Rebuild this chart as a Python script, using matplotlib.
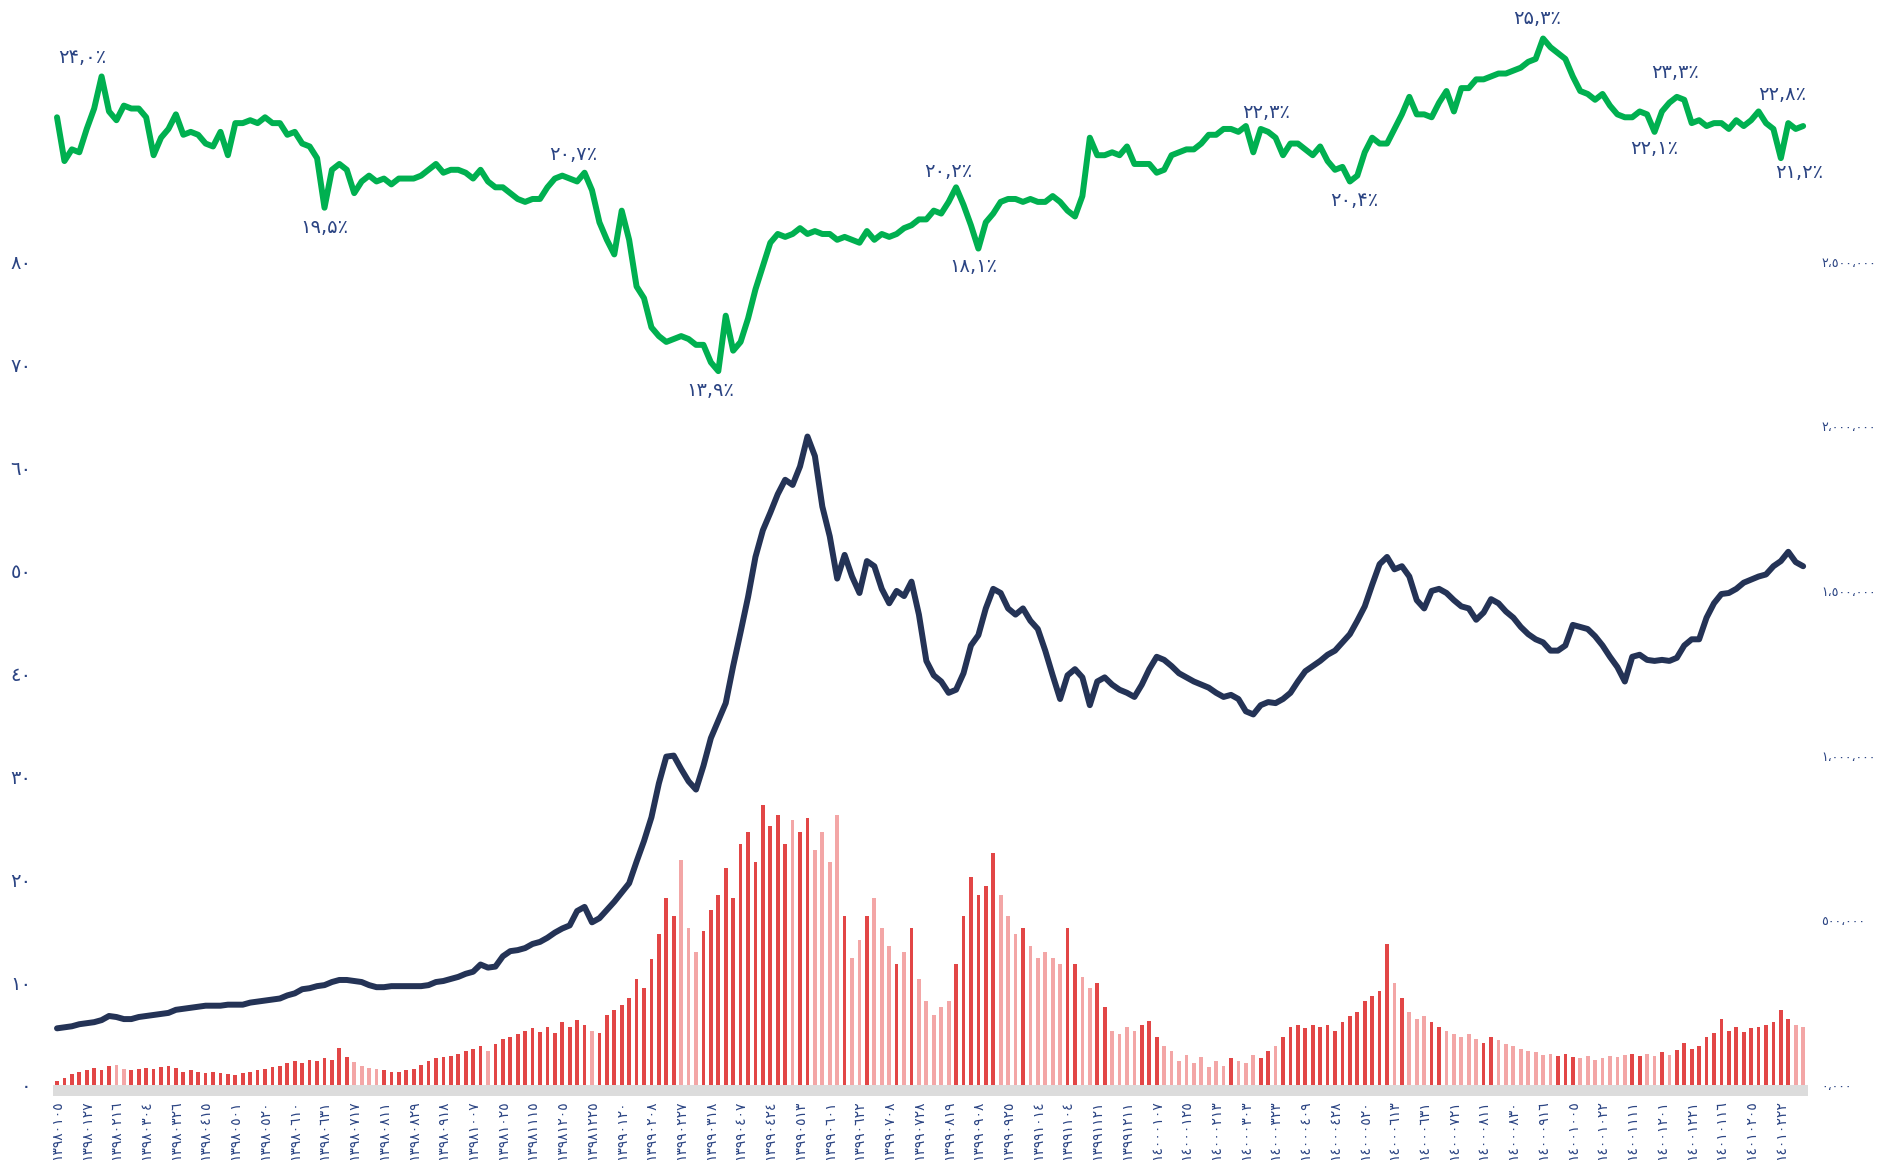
import matplotlib
matplotlib.use("Agg")
import matplotlib.pyplot as plt
import numpy as np
from matplotlib.patches import Rectangle

# --- data -----------------------------------------------------------------
dates = [
    "13980105", "13980127", "13980216", "13980304", "13980326", "13980415",
    "13980501", "13980520", "13980610", "13980631", "13980717", "13980811",
    "13980829", "13980918", "13981007", "13981025", "13981115", "13981205",
    "13981225", "13990120", "13990208", "13990227", "13990318", "13990407",
    "13990424", "13990513", "13990601", "13990622", "13990708", "13990728",
    "13990819", "13990908", "13990925", "13991014", "13991104", "13991121",
    "13991211", "14000107", "14000125", "14000213", "14000303", "14000323",
    "14000409", "14000428", "14000520", "14000613", "14000631", "14000721",
    "14000811", "14000830", "14000916", "14001005", "14001022", "14001111",
    "14001201", "14001221", "14010116", "14010205", "14010222",
]

price = [
    5.5, 5.6, 5.7, 5.9, 6.0, 6.1, 6.3, 6.7, 6.6, 6.4,
    6.4, 6.6, 6.7, 6.8, 6.9, 7.0, 7.3, 7.4, 7.5, 7.6,
    7.7, 7.7, 7.7, 7.8, 7.8, 7.8, 8.0, 8.1, 8.2, 8.3,
    8.4, 8.7, 8.9, 9.3, 9.4, 9.6, 9.7, 10.0, 10.2, 10.2,
    10.1, 10.0, 9.7, 9.5, 9.5, 9.6, 9.6, 9.6, 9.6, 9.6,
    9.7, 10.0, 10.1, 10.3, 10.5, 10.8, 11.0, 11.7, 11.4, 11.5,
    12.5, 13.0, 13.1, 13.3, 13.7, 13.9, 14.3, 14.8, 15.2, 15.5,
    16.9, 17.3, 15.8, 16.2, 17.0, 17.8, 18.7, 19.6, 21.7, 23.7,
    26.0, 29.3, 31.9, 32.0, 30.7, 29.5, 28.7, 31.0, 33.7, 35.4,
    37.1, 40.7, 44.0, 47.4, 51.3, 53.9, 55.6, 57.4, 58.8, 58.3,
    60.1, 63.0, 61.1, 56.2, 53.3, 49.2, 51.5, 49.4, 47.8, 50.9,
    50.4, 48.2, 46.8, 48.0, 47.5, 48.9, 45.7, 41.2, 39.8, 39.2,
    38.1, 38.4, 40.0, 42.7, 43.7, 46.3, 48.2, 47.8, 46.3, 45.7,
    46.3, 45.1, 44.3, 42.2, 39.8, 37.5, 39.8, 40.4, 39.6, 36.9,
    39.2, 39.6, 38.9, 38.4, 38.1, 37.7, 38.9, 40.4, 41.6, 41.3,
    40.7, 40.0, 39.6, 39.2, 38.9, 38.6, 38.1, 37.7, 37.9, 37.5,
    36.3, 36.0, 36.9, 37.2, 37.1, 37.5, 38.1, 39.2, 40.2, 40.7,
    41.2, 41.8, 42.2, 43.0, 43.8, 45.1, 46.5, 48.6, 50.6, 51.3,
    50.1, 50.4, 49.4, 47.1, 46.3, 48.0, 48.2, 47.8, 47.1, 46.5,
    46.3, 45.2, 45.9, 47.2, 46.8, 46.0, 45.4, 44.5, 43.8, 43.3,
    43.0, 42.2, 42.2, 42.7, 44.7, 44.5, 44.3, 43.6, 42.7, 41.6,
    40.6, 39.2, 41.6, 41.8, 41.3, 41.2, 41.3, 41.2, 41.5, 42.7,
    43.3, 43.3, 45.4, 46.8, 47.7, 47.8, 48.2, 48.8, 49.1, 49.4,
    49.6, 50.4, 50.9, 51.8, 50.8, 50.4,
]

ratio = [
    22.6, 21.1, 21.5, 21.4, 22.2, 22.9, 24.0, 22.8, 22.5, 23.0,
    22.9, 22.9, 22.6, 21.3, 21.9, 22.2, 22.7, 22.0, 22.1, 22.0,
    21.7, 21.6, 22.1, 21.3, 22.4, 22.4, 22.5, 22.4, 22.6, 22.4,
    22.4, 22.0, 22.1, 21.7, 21.6, 21.2, 19.5, 20.8, 21.0, 20.8,
    20.0, 20.4, 20.6, 20.4, 20.5, 20.3, 20.5, 20.5, 20.5, 20.6,
    20.8, 21.0, 20.7, 20.8, 20.8, 20.7, 20.5, 20.8, 20.4, 20.2,
    20.2, 20.0, 19.8, 19.7, 19.8, 19.8, 20.2, 20.5, 20.6, 20.5,
    20.4, 20.7, 20.1, 19.0, 18.4, 17.9, 19.4, 18.4, 16.8, 16.4,
    15.4, 15.1, 14.9, 15.0, 15.1, 15.0, 14.8, 14.8, 14.2, 13.9,
    15.8, 14.6, 14.9, 15.7, 16.7, 17.5, 18.3, 18.6, 18.5, 18.6,
    18.8, 18.6, 18.7, 18.6, 18.6, 18.4, 18.5, 18.4, 18.3, 18.7,
    18.4, 18.6, 18.5, 18.6, 18.8, 18.9, 19.1, 19.1, 19.4, 19.3,
    19.7, 20.2, 19.6, 18.9, 18.1, 19.0, 19.3, 19.7, 19.8, 19.8,
    19.7, 19.8, 19.7, 19.7, 19.9, 19.7, 19.4, 19.2, 19.9, 21.9,
    21.3, 21.3, 21.4, 21.3, 21.6, 21.0, 21.0, 21.0, 20.7, 20.8,
    21.3, 21.4, 21.5, 21.5, 21.7, 22.0, 22.0, 22.2, 22.2, 22.1,
    22.3, 21.4, 22.2, 22.1, 21.9, 21.3, 21.7, 21.7, 21.5, 21.3,
    21.6, 21.1, 20.8, 20.9, 20.4, 20.6, 21.4, 21.9, 21.7, 21.7,
    22.2, 22.7, 23.3, 22.7, 22.7, 22.6, 23.1, 23.5, 22.8, 23.6,
    23.6, 23.9, 23.9, 24.0, 24.1, 24.1, 24.2, 24.3, 24.5, 24.6,
    25.3, 25.0, 24.8, 24.6, 24.0, 23.5, 23.4, 23.2, 23.4, 23.0,
    22.7, 22.6, 22.6, 22.8, 22.7, 22.1, 22.8, 23.1, 23.3, 23.2,
    22.4, 22.5, 22.3, 22.4, 22.4, 22.2, 22.5, 22.3, 22.5, 22.8,
    22.4, 22.2, 21.2, 22.4, 22.2, 22.3,
]

# traded volume, thousands
volume_k = [
    12, 22, 33, 40, 44, 51, 44, 59, 62, 48,
    44, 48, 51, 48, 55, 59, 51, 40, 44, 40,
    37, 40, 37, 33, 29, 37, 40, 44, 48, 55,
    59, 66, 73, 66, 77, 73, 81, 77, 113, 84,
    70, 59, 51, 48, 44, 40, 40, 44, 48, 62,
    73, 81, 84, 88, 95, 102, 110, 117, 102, 124,
    139, 146, 154, 165, 172, 161, 176, 157, 190, 176,
    198, 183, 165, 157, 212, 227, 242, 264, 322, 293,
    381, 458, 567, 512, 684, 476, 403, 468, 531, 578,
    659, 567, 732, 769, 677, 849, 787, 820, 732, 805,
    769, 812, 714, 769, 677, 820, 512, 384, 439, 512,
    567, 476, 421, 366, 403, 476, 322, 256, 212, 238,
    256, 366, 512, 630, 578, 604, 703, 578, 512, 458,
    476, 421, 384, 403, 384, 366, 476, 366, 329, 293,
    311, 238, 165, 154, 176, 165, 183, 194, 146, 117,
    102, 73, 92, 66, 84, 55, 73, 59, 81, 73,
    66, 92, 81, 102, 117, 146, 176, 183, 172, 183,
    176, 183, 165, 190, 209, 220, 256, 271, 285, 428,
    311, 264, 220, 201, 209, 190, 176, 165, 154, 146,
    154, 139, 128, 146, 135, 124, 117, 110, 102, 99,
    92, 95, 88, 95, 84, 81, 88, 77, 81, 88,
    84, 92, 95, 88, 95, 88, 99, 92, 106, 128,
    110, 117, 146, 157, 201, 165, 176, 161, 172, 176,
    183, 190, 227, 201, 183, 176,
]

# points of the ratio line that carry a value label
annot_idx = [6, 36, 71, 89, 121, 124, 160, 174, 200, 215, 218, 229, 232]

# --- style ----------------------------------------------------------------
INK = "#2b4483"
NAVY = "#243356"
GREEN = "#00b050"
RED_UP = "#e24646"
RED_DOWN = "#f3a6a6"
STRIP = "#dcdcdc"
AR = str.maketrans("0123456789", "٠١٢٣٤٥٦٧٨٩")
FA = str.maketrans("0123456789", "۰۱۲۳۴۵۶۷۸۹")
# label offsets (pixels) for annot_idx, same order
annot_off = [(-19, 19), (0, -20), (-11, 18), (-8, -19), (-8, 16), (-5, -18),
             (20, 14), (4, -19), (-6, 20), (0, -17), (-2, 24), (24, 17), (18, -14)]

n = len(price)
x = np.arange(n)
volume = np.array(volume_k) * 1000
chg = np.diff(price, prepend=price[0])
bar_colors = [RED_UP if c >= 0 else RED_DOWN for c in chg]

fig = plt.figure(figsize=(18.9, 11.6), dpi=100)
rect = [0.0278, 0.0647, 0.9286, 0.7098]
xlim = (-0.6, n - 0.4)

ax = fig.add_axes(rect)
ax2 = ax.twinx()
ax.set_zorder(ax2.get_zorder() + 1)
ax.patch.set_visible(False)

ax2.bar(x, volume, width=0.5, color=bar_colors, linewidth=0)
ax2.add_patch(Rectangle((0, -0.0134), 1, 0.0134, transform=ax2.transAxes,
                        facecolor=STRIP, edgecolor="none", clip_on=False))
ax.plot(x, price, color=NAVY, linewidth=4.3, solid_joinstyle="round",
        solid_capstyle="round")

ax.set_xlim(*xlim)
ax.set_ylim(0, 80)
ax2.set_ylim(0, 2.5e6)

yt = np.arange(0, 81, 10)
ax.set_yticks(yt)
ax.set_yticklabels([str(v).translate(AR) for v in yt], color=INK, fontsize=14)
rt = np.arange(0, 2.5e6 + 1, 5e5)
r_labels = ["0,000"] + [f"{int(v):,}" for v in rt[1:]]
ax2.set_yticks(rt)
ax2.set_yticklabels([s.translate(AR).replace(",", "،") for s in r_labels],
                    color=INK, fontsize=9)

ticks = x[::4][:len(dates)]
ax.set_xticks(ticks)
ax.set_xticklabels([d.translate(AR) for d in dates], rotation=90,
                   color=INK, fontsize=10, va="top", ha="center")

ax.tick_params(axis="x", length=0, pad=11)
ax.tick_params(axis="y", length=0, pad=15)
ax2.tick_params(axis="y", length=0, pad=10)
for a in (ax, ax2):
    for s in a.spines.values():
        s.set_visible(False)

# ratio line on its own band at the top
axg = fig.add_axes([rect[0], 0, rect[2], 1])
axg.set_xlim(*xlim)
axg.set_ylim(-13.14, 26.62)
axg.axis("off")
axg.patch.set_visible(False)
axg.plot(x, ratio, color=GREEN, linewidth=4.3, solid_joinstyle="round",
         solid_capstyle="round")
for i, (dx, dy) in zip(annot_idx, annot_off):
    label = f"{ratio[i]:.1f}".translate(FA).replace(".", ",") + "٪"
    axg.annotate(label, (x[i], ratio[i]), xytext=(dx, dy),
                 textcoords="offset pixels", ha="center", va="center",
                 color=INK, fontsize=14)

fig.savefig("out.png", dpi=100)
